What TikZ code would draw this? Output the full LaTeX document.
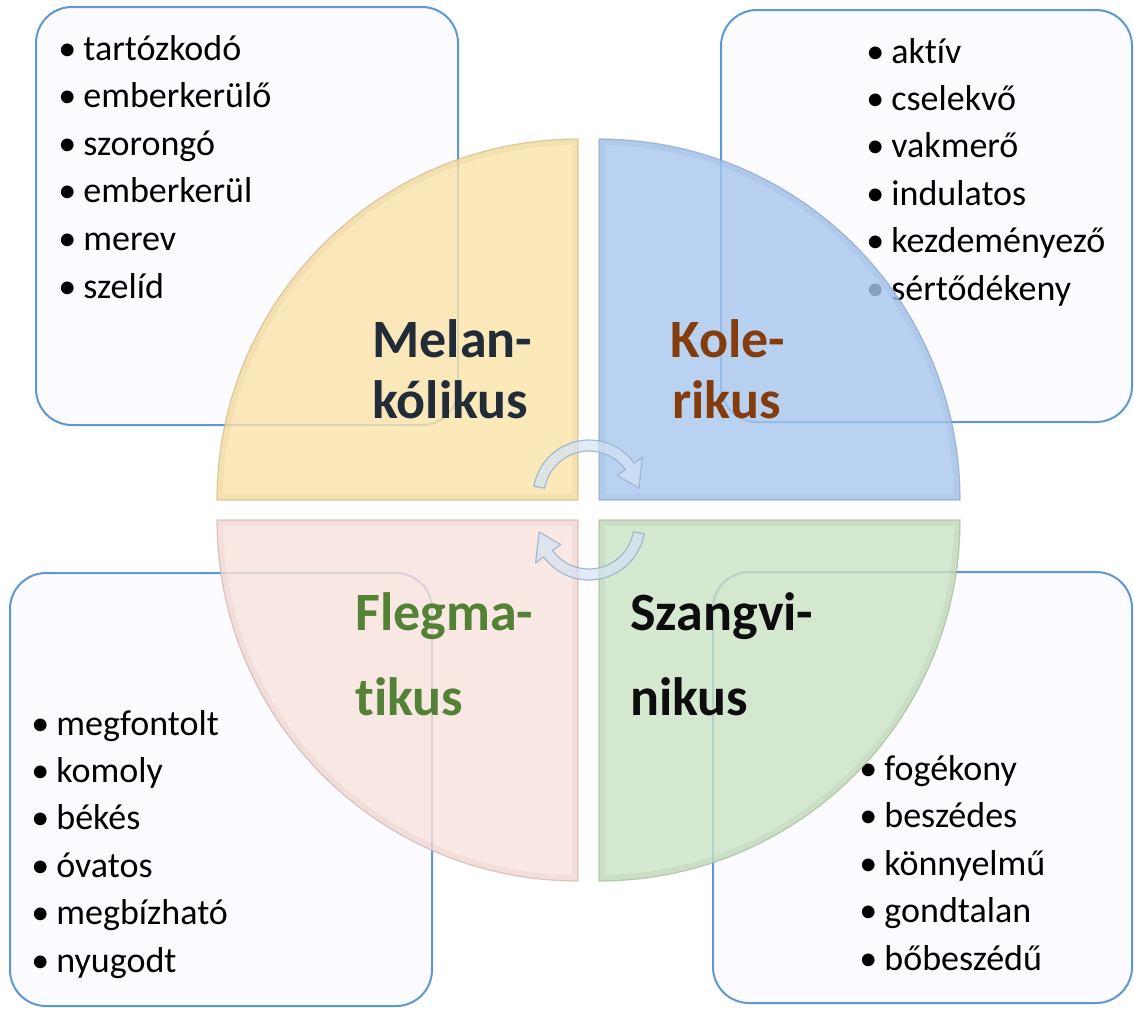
\documentclass[tikz,border=0pt]{standalone}
\usepackage{fontspec}
\setmainfont{Carlito}[Ligatures=NoCommon]
\usetikzlibrary{calc}
\definecolor{boxline}{HTML}{5E98D4}
\definecolor{boxfill}{HTML}{FCFBFF}
\definecolor{qyel}{HTML}{FBE4A9}
\definecolor{qyelD}{HTML}{C8B27A}
\definecolor{qblu}{HTML}{A8C7EE}
\definecolor{qbluD}{HTML}{7E9CC4}
\definecolor{qpnk}{HTML}{F9E2DD}
\definecolor{qpnkD}{HTML}{C9A9A4}
\definecolor{qgrn}{HTML}{CBE2C4}
\definecolor{qgrnD}{HTML}{97B28F}
\definecolor{tmel}{HTML}{222B38}
\definecolor{tkol}{HTML}{843C0C}
\definecolor{tfle}{HTML}{538135}
\definecolor{tsza}{HTML}{0D0D0D}
\definecolor{arrowfill}{HTML}{D3E2F3}
\definecolor{arrowline}{HTML}{9DB4D0}
\tikzset{
  listbox/.style={draw=boxline, fill=boxfill, line width=1pt, rounded corners=18pt},
  item/.style={anchor=base west, inner sep=0pt, font=\fontsize{18pt}{20pt}\selectfont},
  title/.style={anchor=base west, inner sep=0pt, font=\bfseries\fontsize{27pt}{30pt}\selectfont},
  quad/.style={fill opacity=0.8, draw opacity=0.6, line width=0.6pt},
  rim/.style={line width=6pt, draw opacity=0.15},
  turn/.style={fill=arrowfill, fill opacity=0.7, draw=arrowline, draw opacity=0.9, line width=0.6pt, line join=round}
}
\newcommand{\bul}[1]{\makebox[12.5pt][l]{•}#1}
\begin{document}
\begin{tikzpicture}[x=0.5pt,y=0.5pt]
\useasboundingbox (0,0) rectangle (1134,-1009);
% list boxes
\path[listbox] (36,-7) rectangle (458,-425);
\path[listbox] (721,-10) rectangle (1132,-422);
\path[listbox] (10,-573) rectangle (432,-1006);
\path[listbox] (713,-572) rectangle (1132,-1003);
% list items
\foreach \w [count=\i] in {tartózkodó,emberkerülő,szorongó,emberkerül,merev,szelíd}
  \node[item] (tl\i) at (58,{-60-47.6*(\i-1)}) {\bul{\w}};
\foreach \w [count=\i] in {aktív,cselekvő,vakmerő,indulatos,kezdeményező,sértődékeny}
  \node[item] (tr\i) at (866,{-63-47.4*(\i-1)}) {\bul{\w}};
\foreach \w [count=\i] in {megfontolt,komoly,békés,óvatos,megbízható,nyugodt}
  \node[item] (bl\i) at (31,{-735-47.4*(\i-1)}) {\bul{\w}};
\foreach \w [count=\i] in {fogékony,beszédes,könnyelmű,gondtalan,bőbeszédű}
  \node[item] (br\i) at (859,{-780-47.5*(\i-1)}) {\bul{\w}};
% quadrants
\coordinate (qa) at (578,-500);
\coordinate (qb) at (599,-500);
\coordinate (qc) at (578,-520);
\coordinate (qd) at (599,-520);
\path[quad, fill=qyel, draw=qyelD] (qa) -- ++(180:361) arc[start angle=180, end angle=90, radius=180.5pt] -- cycle;
\path[quad, fill=qblu, draw=qbluD] (qb) -- ++(90:361) arc[start angle=90, end angle=0, radius=180.5pt] -- cycle;
\path[quad, fill=qpnk, draw=qpnkD] (qc) -- ++(270:361) arc[start angle=270, end angle=180, radius=180.5pt] -- cycle;
\path[quad, fill=qgrn, draw=qgrnD] (qd) -- ++(0:361) arc[start angle=0, end angle=-90, radius=180.5pt] -- cycle;
\begin{scope}
  \clip (qa) -- ++(180:361) arc[start angle=180, end angle=90, radius=180.5pt] -- cycle;
  \draw[rim, qyelD] (qa) -- ++(180:361) arc[start angle=180, end angle=90, radius=180.5pt] -- cycle;
\end{scope}
\begin{scope}
  \clip (qb) -- ++(90:361) arc[start angle=90, end angle=0, radius=180.5pt] -- cycle;
  \draw[rim, qbluD] (qb) -- ++(90:361) arc[start angle=90, end angle=0, radius=180.5pt] -- cycle;
\end{scope}
\begin{scope}
  \clip (qc) -- ++(270:361) arc[start angle=270, end angle=180, radius=180.5pt] -- cycle;
  \draw[rim, qpnkD] (qc) -- ++(270:361) arc[start angle=270, end angle=180, radius=180.5pt] -- cycle;
\end{scope}
\begin{scope}
  \clip (qd) -- ++(0:361) arc[start angle=0, end angle=-90, radius=180.5pt] -- cycle;
  \draw[rim, qgrnD] (qd) -- ++(0:361) arc[start angle=0, end angle=-90, radius=180.5pt] -- cycle;
\end{scope}
% titles
\node[title, text=tmel] (mel1) at (372,-357) {Melan-};
\node[title, text=tmel] (mel2) at (372,-418) {kólikus};
\node[title, text=tkol] (kol1) at (670,-357) {Kole-};
\node[title, text=tkol] (kol2) at (672,-418) {rikus};
\node[title, text=tfle] (fle1) at (355,-630) {Flegma-};
\node[title, text=tfle] (fle2) at (355,-715) {tikus};
\node[title, text=tsza] (sza1) at (630,-630) {Szangvi-};
\node[title, text=tsza] (sza2) at (630,-715) {nikus};
% circular arrows
\coordinate (ta) at (589,-496);
\coordinate (tb) at (589,-524);
\path[turn] (ta) ++(170:56) arc[start angle=170, end angle=36, radius=28pt]
  -- ($(ta)+(36:66)$) -- ($(ta)+(9:50.5)$) -- ($(ta)+(36:35)$) -- ($(ta)+(36:45)$)
  arc[start angle=36, end angle=170, radius=22.5pt] -- cycle;
\path[turn] (tb) ++(-10:56) arc[start angle=-10, end angle=-144, radius=28pt]
  -- ($(tb)+(-144:66)$) -- ($(tb)+(-171:50.5)$) -- ($(tb)+(-144:35)$) -- ($(tb)+(-144:45)$)
  arc[start angle=-144, end angle=-10, radius=22.5pt] -- cycle;
\end{tikzpicture}
\end{document}
